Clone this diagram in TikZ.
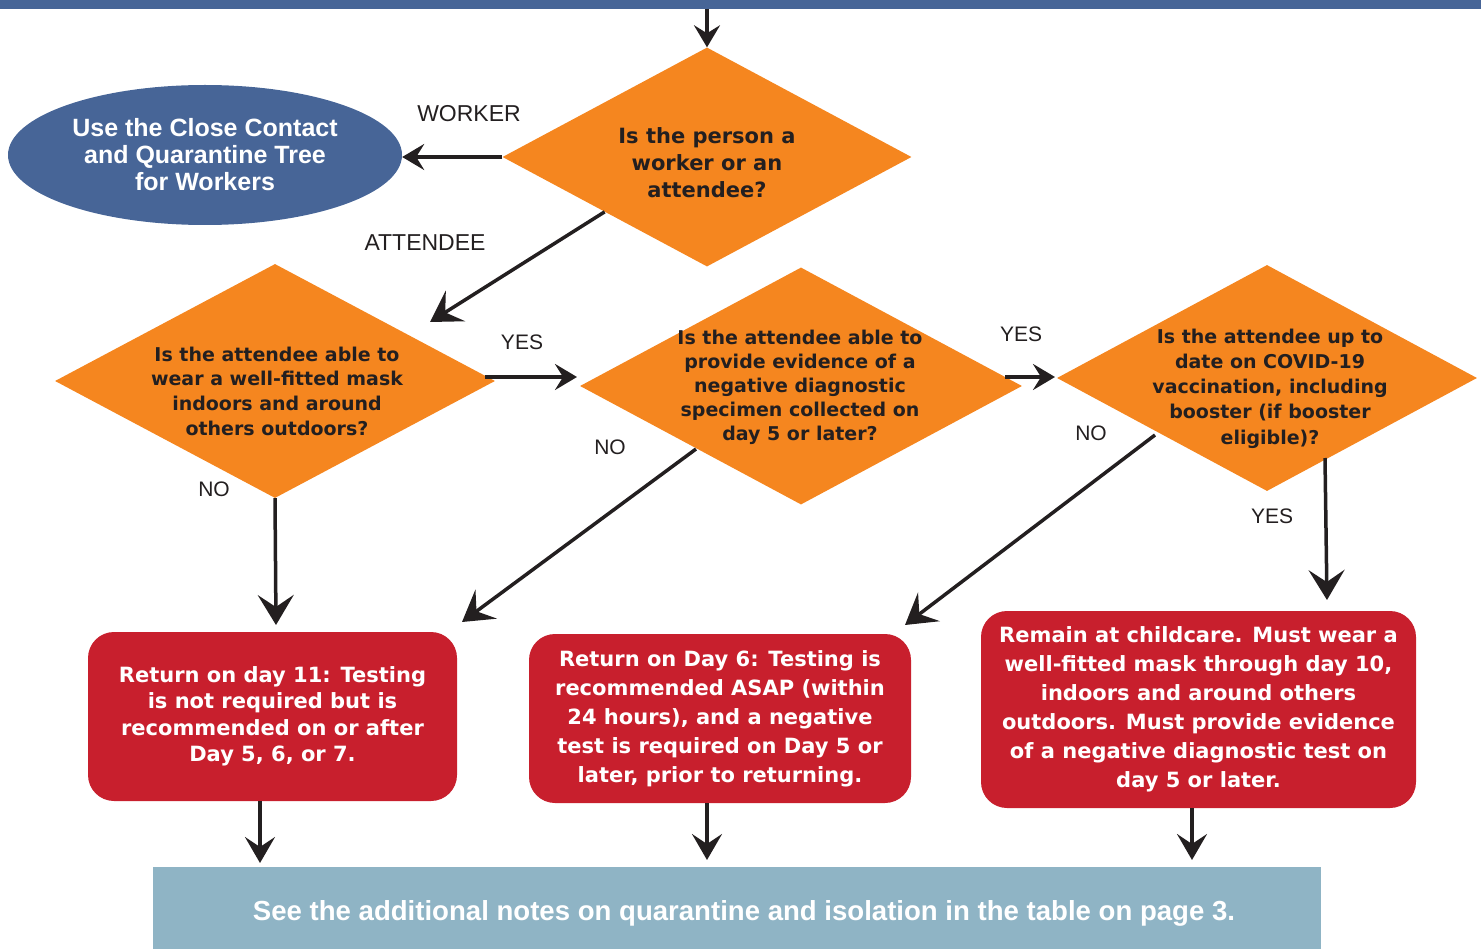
\documentclass[tikz,border=0pt]{standalone}
\usepackage{fontspec}
\usetikzlibrary{arrows.meta,shapes.geometric}
\newfontfamily\dvfont{DejaVu Sans}
\newfontfamily\lsfont{Liberation Sans}
\definecolor{orng}{HTML}{F5861F}
\definecolor{bluee}{HTML}{476597}
\definecolor{redb}{HTML}{C81F2D}
\definecolor{lightb}{HTML}{8FB4C5}
\definecolor{ink}{HTML}{231F20}
\tikzset{
  dia/.style={shape=diamond, fill=orng, inner sep=0pt},
  dtext/.style={text=ink, align=center, inner sep=0pt, font=\dvfont\bfseries\fontsize{19}{24.5}\selectfont},
  redbox/.style={fill=redb, rounded corners=26pt, inner sep=0pt, text=white, align=center, font=\dvfont\bfseries\fontsize{21}{29}\selectfont},
  lbl/.style={text=ink, inner sep=0pt, font=\lsfont\fontsize{23}{27}\selectfont},
  arrbig/.style={draw=ink, line width=3.5pt, -{Stealth[length=30pt,width=36pt,inset=12pt]}},
  arrmid/.style={draw=ink, line width=3.5pt, -{Stealth[length=26pt,width=30pt,inset=10pt]}},
  arrsm/.style={draw=ink, line width=3.5pt, -{Stealth[length=22pt,width=26pt,inset=8pt]}},
}
\begin{document}
\begin{tikzpicture}[x=1pt,y=-1pt]
\useasboundingbox (0,0) rectangle (1481,949);
% top bar
\node[fill=bluee, minimum width=1481pt, minimum height=9pt, inner sep=0pt, anchor=north west] (topbar) at (0,0) {};
% diamonds
\node[dia, minimum width=409pt, minimum height=219pt] (d1) at (707,157) {};
\node[dtext, font=\dvfont\bfseries\fontsize{21}{27}\selectfont] (d1t) at (707,163) {Is the person a\\worker or an\\attendee?};
\node[dia, minimum width=440pt, minimum height=234pt] (d2) at (275,381) {};
\node[dtext, font=\dvfont\bfseries\fontsize{19}{24.7}\selectfont] (d2t) at (277,391) {Is the attendee able to\\wear a well-fitted mask\\indoors and around\\others outdoors?};
\node[dia, minimum width=442pt, minimum height=237pt] (d3) at (801,386) {};
\node[dtext, font=\dvfont\bfseries\fontsize{19}{24}\selectfont] (d3t) at (800,387) {Is the attendee able to\\provide evidence of a\\negative diagnostic\\specimen collected on\\day 5 or later?};
\node[dia, minimum width=420pt, minimum height=226pt] (d4) at (1267,378) {};
\node[dtext, font=\dvfont\bfseries\fontsize{19}{25.2}\selectfont] (d4t) at (1270,388.5) {Is the attendee up to\\date on COVID-19\\vaccination, including\\booster (if booster\\eligible)?};
% ellipse
\node[shape=ellipse, fill=bluee, minimum width=394pt, minimum height=140pt, inner sep=0pt, text=white, align=center, font=\lsfont\bfseries\fontsize{25}{27}\selectfont] (ell) at (205,155) {Use the Close Contact\\and Quarantine Tree\\for Workers};
% red boxes
\node[redbox, minimum width=369pt, minimum height=169pt, font=\dvfont\bfseries\fontsize{21}{26.5}\selectfont] (r1) at (272.5,716.5) {Return on day 11: Testing\\is not required but is\\recommended on or after\\Day 5, 6, or 7.};
\node[redbox, minimum width=382pt, minimum height=169pt] (r2) at (720,718.5) {Return on Day 6: Testing is\\recommended ASAP (within\\24 hours), and a negative\\test is required on Day 5 or\\later, prior to returning.};
\node[redbox, minimum width=435pt, minimum height=197pt] (r3) at (1198.5,709.5) {Remain at childcare. Must wear a\\well-fitted mask through day 10,\\indoors and around others\\outdoors. Must provide evidence\\of a negative diagnostic test on\\day 5 or later.};
% bottom box
\node[fill=lightb, minimum width=1168pt, minimum height=82pt, inner sep=0pt, anchor=north west] (bot) at (153,867) {};
\node[text=white, inner sep=0pt] (bott) at (744,913) {\resizebox{982pt}{!}{\lsfont\bfseries See the additional notes on quarantine and isolation in the table on page 3.}};
% coordinates
\coordinate (attend) at (430,322);
\coordinate (y1s) at (485,377);
\coordinate (y1e) at (577,377);
\coordinate (y2s) at (1005,377);
\coordinate (y2e) at (1055,377);
\coordinate (n3s) at (696,449);
\coordinate (n3e) at (462,622);
\coordinate (n4s) at (1155,435);
\coordinate (n4e) at (905,625);
\coordinate (y4s) at (1325,458);
\coordinate (y4e) at (1327,600);
% arrows
\draw[arrsm] (707,9) -- (d1.north);
\draw[arrsm] (d1.west) -- (ell.east |- d1.west);
\draw[arrbig] (d1.south west) -- (attend);
\draw[arrsm] (y1s) -- (y1e);
\draw[arrsm] (y2s) -- (y2e);
\draw[arrbig] (d2.south) -- (276,625);
\draw[arrbig] (n3s) -- (n3e);
\draw[arrbig] (n4s) -- (n4e);
\draw[arrbig] (y4s) -- (y4e);
\draw[arrmid] (r1.south -| 260,0) -- (260,863);
\draw[arrmid] (r2.south -| 707,0) -- (707,860);
\draw[arrmid] (r3.south -| 1192,0) -- (1192,860);
% labels
\node[lbl] (lw) at (469,114) {WORKER};
\node[lbl] (la) at (425,243) {ATTENDEE};
\node[lbl, font=\lsfont\fontsize{21}{25}\selectfont] (ly1) at (522,342) {YES};
\node[lbl, font=\lsfont\fontsize{21}{25}\selectfont] (ly2) at (1021,334) {YES};
\node[lbl, font=\lsfont\fontsize{21}{25}\selectfont] (ln2) at (214,489) {NO};
\node[lbl, font=\lsfont\fontsize{21}{25}\selectfont] (ln3) at (610,447) {NO};
\node[lbl, font=\lsfont\fontsize{21}{25}\selectfont] (ln4) at (1091,433) {NO};
\node[lbl, font=\lsfont\fontsize{21}{25}\selectfont] (ly4) at (1272,516) {YES};
\end{tikzpicture}
\end{document}
